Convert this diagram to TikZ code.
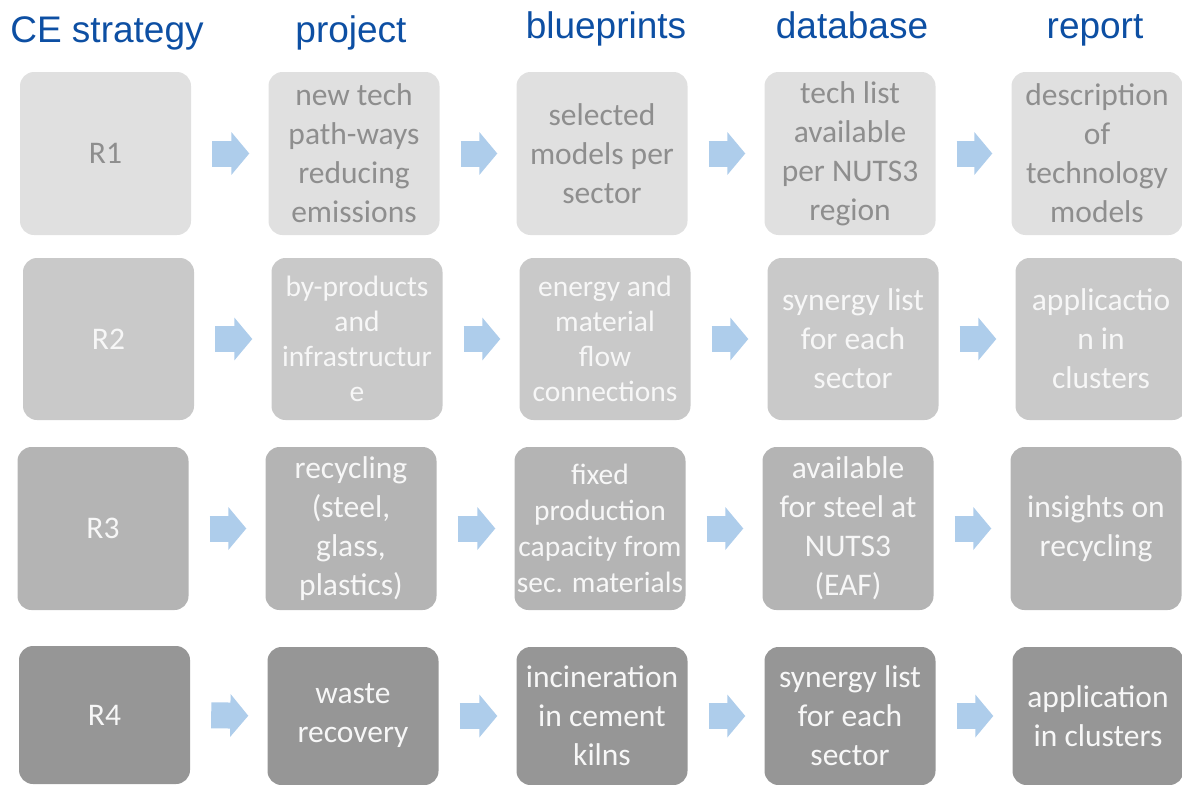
\documentclass[tikz,border=0pt]{standalone}
\usepackage{fontspec}
\setmainfont{Carlito}
\newfontfamily\headfont{Liberation Sans}
\usetikzlibrary{arrows.meta}
\definecolor{headblue}{HTML}{0D4FA3}
\definecolor{arrowblue}{HTML}{AECDEB}
\definecolor{fillA}{HTML}{E0E0E0}
\definecolor{fillB}{HTML}{C9C9C9}
\definecolor{fillC}{HTML}{B4B4B4}
\definecolor{fillD}{HTML}{969696}
\definecolor{textA}{HTML}{8E8E8E}
\definecolor{textB}{HTML}{F7F7F7}
\tikzset{
  head/.style={font=\headfont\fontsize{37}{40}\selectfont, text=headblue, inner sep=0pt, anchor=base},
  box/.style={rounded corners=14pt, inner sep=0pt, align=center, minimum width=171pt, font=\fontsize{31.5}{39}\selectfont},
  rowA/.style={box, fill=fillA, text=textA, minimum height=163pt},
  rowB/.style={box, fill=fillB, text=textB, minimum height=162pt},
  rowC/.style={box, fill=fillC, text=textB, minimum height=163pt},
  rowD/.style={box, fill=fillD, text=textB, minimum height=138pt},
  small/.style={font=\fontsize{29.5}{35}\selectfont},
  smaller/.style={font=\fontsize{29.5}{36}\selectfont},
  fat/.style={draw=arrowblue, line width=26pt, -{Triangle[length=18pt,width=42pt,fill=arrowblue]}, shorten <=21pt, shorten >=19pt},
}
\begin{document}
\begin{tikzpicture}[x=1pt,y=-1pt]
\useasboundingbox (0,0) rectangle (1182,784);
\clip (0,0) rectangle (1182,784);
% headers
\node[head] (h1) at (107,43) {CE strategy};
\node[head] (h2) at (351,43) {project};
\node[head] (h3) at (606,39) {blueprints};
\node[head] (h4) at (852,39) {database};
\node[head] (h5) at (1095,39) {report};
% row 1
\node[rowA] (a1) at (105.5,153.5) {R1};
\node[rowA] (a2) at (354,153.5) {new tech\\path-ways\\reducing\\emissions};
\node[rowA] (a3) at (602,153.5) {selected\\models per\\sector};
\node[rowA] (a4) at (850,153.5) {tech list\\available\\per NUTS3\\region};
\node[rowA] (a5) at (1097,153.5) {description\\of\\technology\\models};
% row 2
\node[rowB] (b1) at (108.5,339) {R2};
\node[rowB,small] (b2) at (357,339) {by-products\\and\\infrastructur\\e};
\node[rowB,small] (b3) at (605,339) {energy and\\material\\flow\\connections};
\node[rowB] (b4) at (853,339) {synergy list\\for each\\sector};
\node[rowB] (b5) at (1101,339) {applicactio\\n in\\clusters};
% row 3
\node[rowC] (c1) at (103,528.5) {R3};
\node[rowC] (c2) at (351,528.5) {recycling\\(steel,\\glass,\\plastics)};
\node[rowC,smaller] (c3) at (600,528.5) {fixed\\production\\capacity from\\sec. materials};
\node[rowC] (c4) at (848,528.5) {available\\for steel at\\NUTS3\\(EAF)};
\node[rowC] (c5) at (1096,528.5) {insights on\\recycling};
% row 4
\node[rowD] (d1) at (104.5,715) {R4};
\node[rowD] (d2) at (353,716) {waste\\recovery};
\node[rowD] (d3) at (602,716) {incineration\\in cement\\kilns};
\node[rowD] (d4) at (850,716) {synergy list\\for each\\sector};
\node[rowD] (d5) at (1098,716) {application\\in clusters};
% arrows
\foreach \r in {a,b,c,d}{
  \draw[fat] (\r1.east) -- (\r2.west);
  \draw[fat] (\r2.east) -- (\r3.west);
  \draw[fat] (\r3.east) -- (\r4.west);
  \draw[fat] (\r4.east) -- (\r5.west);
}
\end{tikzpicture}
\end{document}
